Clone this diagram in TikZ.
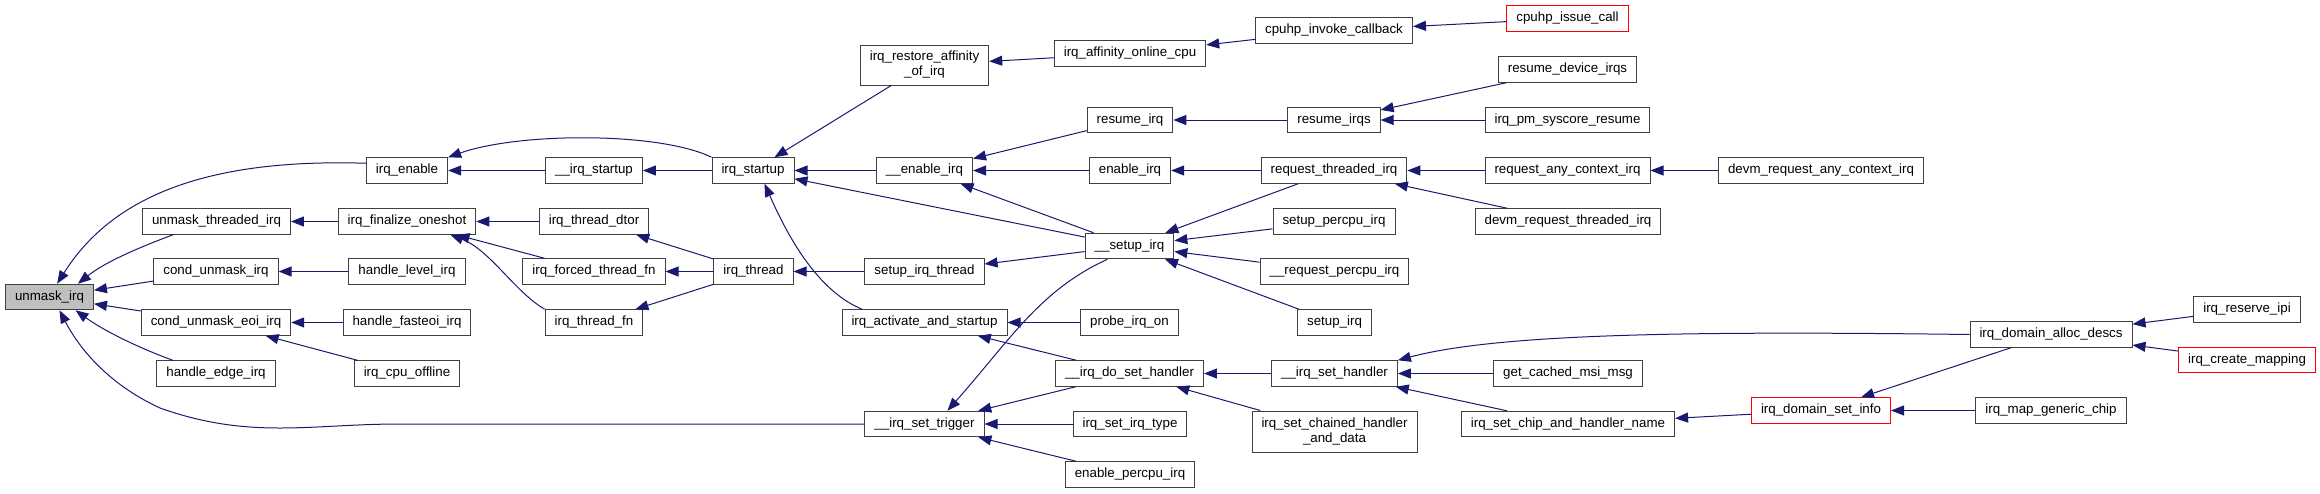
\documentclass[tikz,border=0pt]{standalone}
\usepackage{fontspec}
\setmainfont{Liberation Sans}
\usepackage{tikz}
\usetikzlibrary{arrows.meta}
\definecolor{edgeblue}{HTML}{191970}
\definecolor{boxgray}{HTML}{404040}
\newcommand{\fnfont}{\fontsize{13.33}{15}\selectfont}
\tikzset{
    fn/.style = {
        rectangle, draw=boxgray, line width=1pt,
        minimum height=25.5pt,
        inner xsep=9.5pt, inner ysep=0pt,
        align=center, font=\fnfont
    },
    fnred/.style = {
        fn, draw=red
    },
    arrow/.style = {
        -{Triangle[length=13pt, width=10pt]}, draw=edgeblue, line width=1pt
    }
}

\begin{document}
\begin{tikzpicture}[x=1pt, y=-1pt]
\useasboundingbox (0,0) rectangle (2320,493);

\node (unmask) [fn, fill=gray!50] at (49.5,297) {unmask\_irq};

\node (unmaskthr) [fn] at (216.5,221.5) {unmask\_threaded\_irq};
\node (condunmask) [fn] at (216,271.5) {cond\_unmask\_irq};
\node (condeoi) [fn] at (216,322.5) {cond\_unmask\_eoi\_irq};
\node (edgeirq) [fn] at (216,373.5) {handle\_edge\_irq};

\node (irqenable) [fn] at (407,170.5) {irq\_enable};
\node (finalize) [fn] at (407,221.5) {irq\_finalize\_oneshot};
\node (levelirq) [fn] at (407,271.5) {handle\_level\_irq};
\node (fasteoi) [fn] at (407,322.5) {handle\_fasteoi\_irq};
\node (cpuoffline) [fn] at (407,373.5) {irq\_cpu\_offline};

\node (istartup) [fn] at (594,170.5) {\_\_irq\_startup};
\node (dtor) [fn] at (594,221.5) {irq\_thread\_dtor};
\node (forcedfn) [fn] at (594,271.5) {irq\_forced\_thread\_fn};
\node (threadfn) [fn] at (594,322.5) {irq\_thread\_fn};

\node (startup) [fn] at (753,170.5) {irq\_startup};
\node (thread) [fn] at (753.5,271.5) {irq\_thread};

\node (restore) [fn, minimum height=40pt] at (924.5,65) {irq\_restore\_affinity\\\_of\_irq};
\node (enableint) [fn] at (924.5,170.5) {\_\_enable\_irq};
\node (setupthread) [fn] at (924.5,271.5) {setup\_irq\_thread};
\node (activate) [fn] at (924.5,322.5) {irq\_activate\_and\_startup};
\node (trigger) [fn] at (924.5,424) {\_\_irq\_set\_trigger};

\node (affinity) [fn] at (1130,53.5) {irq\_affinity\_online\_cpu};
\node (resumeirq) [fn] at (1130,120) {resume\_irq};
\node (enableirq) [fn] at (1130,170.5) {enable\_irq};
\node (setupint) [fn] at (1129.5,246) {\_\_setup\_irq};
\node (probe) [fn] at (1129.5,322.5) {probe\_irq\_on};
\node (dosethandler) [fn] at (1129.5,373.5) {\_\_irq\_do\_set\_handler};
\node (settype) [fn] at (1130,424) {irq\_set\_irq\_type};
\node (percpuen) [fn] at (1130,474.5) {enable\_percpu\_irq};

\node (cpuhpinvoke) [fn] at (1334,30.5) {cpuhp\_invoke\_callback};
\node (resumeirqs) [fn] at (1334,120) {resume\_irqs};
\node (reqthreaded) [fn] at (1334,170.5) {request\_threaded\_irq};
\node (setuppercpu) [fn] at (1334,221.5) {setup\_percpu\_irq};
\node (reqpercpu) [fn] at (1334.5,271.5) {\_\_request\_percpu\_irq};
\node (setupirq) [fn] at (1334.5,322.5) {setup\_irq};
\node (sethandler) [fn] at (1334.5,373.5) {\_\_irq\_set\_handler};
\node (chained) [fn, minimum height=41pt] at (1334.5,431.5) {irq\_set\_chained\_handler\\\_and\_data};

\node (issuecall) [fnred] at (1567.5,18.5) {cpuhp\_issue\_call};
\node (resumedev) [fn] at (1567.5,69.5) {resume\_device\_irqs};
\node (syscore) [fn] at (1567.5,120) {irq\_pm\_syscore\_resume};
\node (reqany) [fn] at (1567.5,170.5) {request\_any\_context\_irq};
\node (devmthreaded) [fn] at (1568,221.5) {devm\_request\_threaded\_irq};
\node (cachedmsi) [fn] at (1568,373.5) {get\_cached\_msi\_msg};
\node (chipname) [fn] at (1568,424) {irq\_set\_chip\_and\_handler\_name};

\node (devmany) [fn] at (1821,170.5) {devm\_request\_any\_context\_irq};
\node (setinfo) [fnred] at (1821,410.5) {irq\_domain\_set\_info};

\node (allocdescs) [fn] at (2051,334.5) {irq\_domain\_alloc\_descs};
\node (mapchip) [fn] at (2051,410.5) {irq\_map\_generic\_chip};

\node (reserveipi) [fn] at (2247,309.5) {irq\_reserve\_ipi};
\node (createmap) [fnred] at (2247,360) {irq\_create\_mapping};

% callers of unmask_irq
\draw [arrow] (irqenable.170) .. controls (200,158) and (110,200) .. (unmask.60);
\draw [arrow] (unmaskthr.197) .. controls (140,247) and (105,262) .. (unmask.25);
\draw [arrow] (condunmask) -- (unmask);
\draw [arrow] (condeoi) -- (unmask);
\draw [arrow] (edgeirq.163) .. controls (150,352) and (110,335) .. (unmask.333);
\draw [arrow] (trigger.west) -- (400,424) .. controls (310,424) and (250,440) .. (160,408)
    .. controls (110,385) and (80,350) .. (unmask.307);

\draw [arrow] (istartup) -- (irqenable);
\draw [arrow] (startup.north west) .. controls (660,132) and (520,132) .. (irqenable.north east);
\draw [arrow] (finalize) -- (unmaskthr);
\draw [arrow] (dtor) -- (finalize);
\draw [arrow] (forcedfn) -- (finalize);
\draw [arrow] (threadfn.north west) .. controls (515,292) and (490,250) .. (finalize.343);
\draw [arrow] (levelirq) -- (condunmask);
\draw [arrow] (fasteoi) -- (condeoi);
\draw [arrow] (cpuoffline) -- (condeoi);

\draw [arrow] (startup) -- (istartup);
\draw [arrow] (thread) -- (dtor);
\draw [arrow] (thread) -- (forcedfn);
\draw [arrow] (thread) -- (threadfn);
\draw [arrow] (restore) -- (startup);
\draw [arrow] (enableint) -- (startup);
\draw [arrow] (setupint) -- (startup);
\draw [arrow] (activate.168) .. controls (815,290) and (785,230) .. (startup.311);
\draw [arrow] (setupthread) -- (thread);

\draw [arrow] (affinity) -- (restore);
\draw [arrow] (resumeirq) -- (enableint);
\draw [arrow] (enableirq) -- (enableint);
\draw [arrow] (setupint) -- (enableint);
\draw [arrow] (setupint) -- (setupthread);
\draw [arrow] (setupint.211) .. controls (1040,290) and (1010,340) .. (trigger.30);
\draw [arrow] (probe) -- (activate);
\draw [arrow] (dosethandler) -- (activate);
\draw [arrow] (dosethandler) -- (trigger);
\draw [arrow] (settype) -- (trigger);
\draw [arrow] (percpuen) -- (trigger);

\draw [arrow] (cpuhpinvoke) -- (affinity);
\draw [arrow] (resumeirqs) -- (resumeirq);
\draw [arrow] (reqthreaded) -- (enableirq);
\draw [arrow] (reqthreaded) -- (setupint);
\draw [arrow] (setuppercpu) -- (setupint);
\draw [arrow] (reqpercpu) -- (setupint);
\draw [arrow] (setupirq) -- (setupint);
\draw [arrow] (sethandler) -- (dosethandler);
\draw [arrow] (chained) -- (dosethandler);

\draw [arrow] (issuecall) -- (cpuhpinvoke);
\draw [arrow] (resumedev) -- (resumeirqs);
\draw [arrow] (syscore) -- (resumeirqs);
\draw [arrow] (reqany) -- (reqthreaded);
\draw [arrow] (devmthreaded) -- (reqthreaded);
\draw [arrow] (cachedmsi) -- (sethandler);
\draw [arrow] (chipname) -- (sethandler);

\draw [arrow] (devmany) -- (reqany);
\draw [arrow] (setinfo) -- (chipname);
\draw [arrow] (allocdescs.west) .. controls (1700,331) and (1500,333) .. (sethandler.north east);
\draw [arrow] (allocdescs) -- (setinfo);
\draw [arrow] (mapchip) -- (setinfo);
\draw [arrow] (reserveipi) -- (allocdescs);
\draw [arrow] (createmap) -- (allocdescs);

\end{tikzpicture}
\end{document}
